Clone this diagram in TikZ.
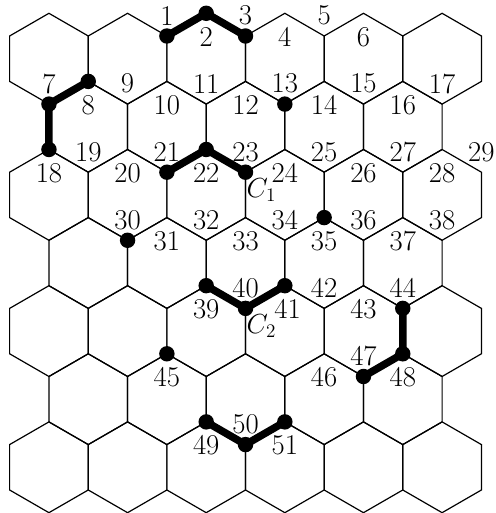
\documentclass[tikz,border=0pt]{standalone}
\tikzset{
  hexline/.style={line width=0.75pt, line join=miter},
  thickpath/.style={line width=4.7pt, line cap=round, line join=round},
  vdot/.style={circle, fill=black, inner sep=0pt, minimum size=0.34cm},
  vlab/.style={inner sep=0pt, font=\fontsize{18}{21.6}\selectfont},
}
\begin{document}
\begin{tikzpicture}
\useasboundingbox (0,0) rectangle (10.925,-11.30);
% hexagonal grid
\foreach \r in {0,...,6}{
  \pgfmathtruncatemacro\kmax{5-mod(\r,2)}
  \foreach \k in {0,...,\kmax}{
    \pgfmathsetmacro\cx{1.078+1.732*\k+0.866*mod(\r,2)}
    \pgfmathsetmacro\cy{-(1.293+1.5*\r)}
    \draw[hexline,shift={(\cx,\cy)}] (30:1) -- (90:1) -- (150:1) -- (210:1) -- (270:1) -- (330:1) -- cycle;
  }
}
% numbered vertices: number / column / zigzag level / high(1) or low(0)
\foreach \n/\i/\m/\h in {
  1/4/0/0, 2/5/0/1, 3/6/0/0, 4/7/0/1, 5/8/0/0, 6/9/0/1,
  7/1/1/0, 8/2/1/1, 9/3/1/0, 10/4/1/1, 11/5/1/0, 12/6/1/1, 13/7/1/0, 14/8/1/1, 15/9/1/0, 16/10/1/1, 17/11/1/0,
  18/1/2/1, 19/2/2/0, 20/3/2/1, 21/4/2/0, 22/5/2/1, 23/6/2/0, 24/7/2/1, 25/8/2/0, 26/9/2/1, 27/10/2/0, 28/11/2/1, 29/12/2/0,
  30/3/3/0, 31/4/3/1, 32/5/3/0, 33/6/3/1, 34/7/3/0, 35/8/3/1, 36/9/3/0, 37/10/3/1, 38/11/3/0,
  39/5/4/1, 40/6/4/0, 41/7/4/1, 42/8/4/0, 43/9/4/1, 44/10/4/0,
  45/4/5/1, 46/8/5/1, 47/9/5/0, 48/10/5/1,
  49/5/6/1, 50/6/6/0, 51/7/6/1}{
  \pgfmathsetmacro\vx{0.212+0.866*\i}
  \pgfmathsetmacro\vy{-(0.293+1.5*\m+0.5*(1-\h))}
  \pgfmathsetmacro\lx{\vx+(\n==41)*0.06}
  \pgfmathsetmacro\ly{\vy+0.45-0.97*\h}
  \coordinate (v\n) at (\vx,\vy);
  \node[vlab] (t\n) at (\lx,\ly) {\n};
}
% thick paths
\draw[thickpath] (v1) -- (v2) -- (v3);
\draw[thickpath] (v8) -- (v7) -- (v18);
\draw[thickpath] (v21) -- (v22) -- (v23);
\draw[thickpath] (v39) -- (v40) -- (v41);
\draw[thickpath] (v44) -- (v48) -- (v47);
\draw[thickpath] (v49) -- (v50) -- (v51);
% dots
\foreach \n in {1,2,3,7,8,18,13,21,22,23,30,35,39,40,41,44,45,47,48,49,50,51}
  \node[vdot] (d\n) at (v\n) {};
% cycle labels
\node[vlab, anchor=base west] (c1) at ([shift={(0.02,-0.55)}]v23) {$C_1$};
\node[vlab, anchor=base west] (c2) at ([shift={(0.02,-0.55)}]v40) {$C_2$};
\end{tikzpicture}
\end{document}
